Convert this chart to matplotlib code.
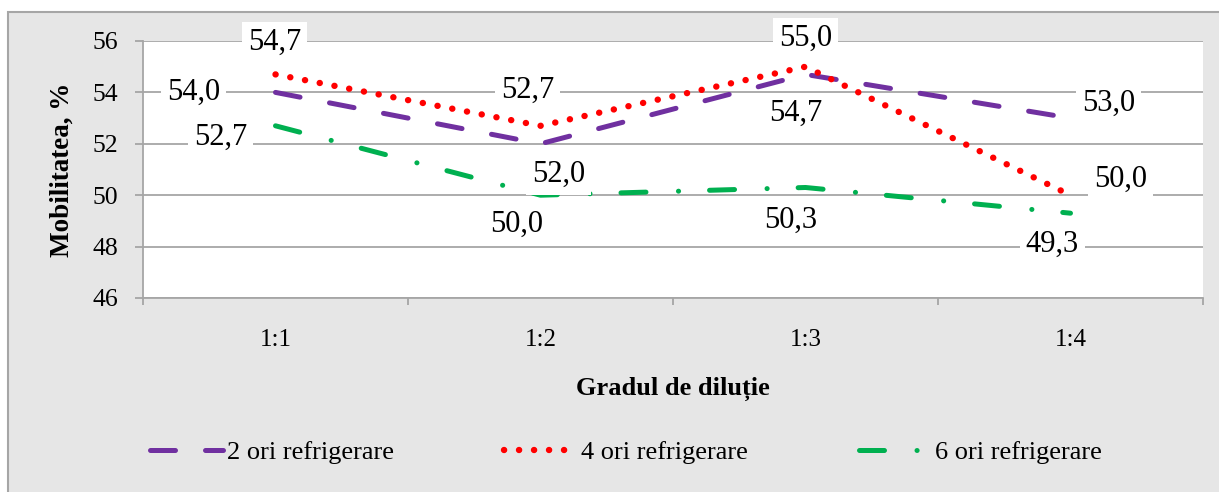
import matplotlib
matplotlib.use("Agg")
import matplotlib.pyplot as plt
from matplotlib.patches import Rectangle
from matplotlib.ticker import FixedLocator

plt.rcParams['font.family'] = ['Liberation Serif', 'DejaVu Serif']
plt.rcParams['lines.scale_dashes'] = False

categories = ["1:1", "1:2", "1:3", "1:4"]
series_names = ["2 ori refrigerare", "4 ori refrigerare", "6 ori refrigerare"]
values_2 = [54.0, 52.0, 54.7, 53.0]
values_4 = [54.7, 52.7, 55.0, 50.0]
values_6 = [52.7, 50.0, 50.3, 49.3]
y_ticks = [46, 48, 50, 52, 54, 56]

W, H = 1219, 492
fig = plt.figure(figsize=(W / 100, H / 100), dpi=100, facecolor='white')

# background panel
bg = Rectangle((8 / W, -0.01), 1.0, 1 - 12 / H + 0.01, transform=fig.transFigure,
               facecolor='#e6e6e6', edgecolor='#a6a6a6', linewidth=1.5, zorder=-5)
fig.add_artist(bg)

ax = fig.add_axes([143 / W, 1 - 298 / H, 1060 / W, 257 / H])
ax.set_zorder(1)
ax.set_facecolor('white')

x = list(range(len(categories)))

l2, = ax.plot(x, values_2, color='#7030A0', lw=3.6,
              linestyle=(0, (18, 21.6)), dash_capstyle='round', zorder=3)
l4, = ax.plot(x, values_4, color='#FF0000', lw=4.6,
              linestyle=(0, (0.1, 10.7)), dash_capstyle='round', zorder=4)
l6, = ax.plot(x, values_6, color='#00B050', lw=3.6,
              linestyle=(0, (18, 23.4, 0.1, 22.3)), dash_capstyle='round', zorder=5)

ax.set_xlim(-0.5, 3.5)
ax.set_ylim(46, 56)
ax.yaxis.set_major_locator(FixedLocator(y_ticks))
ax.set_yticklabels([str(t) for t in y_ticks])
ax.set_xticks(x)
ax.set_xticklabels(categories)
ax.xaxis.set_minor_locator(FixedLocator([-0.5, 0.5, 1.5, 2.5, 3.5]))

ax.tick_params(axis='x', which='major', length=0, pad=22, labelsize=18)
ax.tick_params(axis='x', which='minor', length=5, width=1.2, color='#a0a0a0')
ax.tick_params(axis='y', which='major', length=6, width=1.2, color='#a0a0a0',
               pad=12, labelsize=18.5)

ax.grid(axis='y', color='#a6a6a6', lw=1.3, zorder=1)
ax.set_axisbelow(True)
for s in ['top', 'right']:
    ax.spines[s].set_visible(False)
for s in ['left', 'bottom']:
    ax.spines[s].set_color('#a6a6a6')
    ax.spines[s].set_linewidth(1.3)

# data labels: (series values, offsets in pixels (dx, dy) for each point)
label_offsets = [
    (values_2, [(-82, 0), (18, -31), (-10, -39), (38, 15)]),
    (values_4, [(-1, 32), (-13, 35), (0, 28), (50, 16)]),
    (values_6, [(-55, -12), (-24, -29), (-15, -33), (-18, -31)]),
]
for vals, offs in label_offsets:
    for xi, v, (dx, dy) in zip(x, vals, offs):
        ax.annotate(f"{v:.1f}".replace('.', ','), (xi, v), xytext=(dx, dy),
                    textcoords='offset pixels', ha='center', va='center',
                    fontsize=22, zorder=6, annotation_clip=False,
                    bbox=dict(boxstyle='square,pad=0.2', fc='white', ec='none'))

fig.text(62 / W, 1 - 170 / H, "Mobilitatea, %", rotation=90, ha='center',
         va='center', fontsize=19.5, fontweight='bold')
fig.text(673 / W, 1 - 389 / H, "Gradul de diluție", ha='center', va='center',
         fontsize=19, fontweight='bold')

leg = fig.legend([l2, l4, l6], series_names, ncol=3, loc='center',
                 bbox_to_anchor=(626 / W, 1 - 452 / H), frameon=False,
                 fontsize=19, handlelength=2.75, handletextpad=0.15,
                 columnspacing=4.2)

fig.savefig("out.png", dpi=100, facecolor='white')
